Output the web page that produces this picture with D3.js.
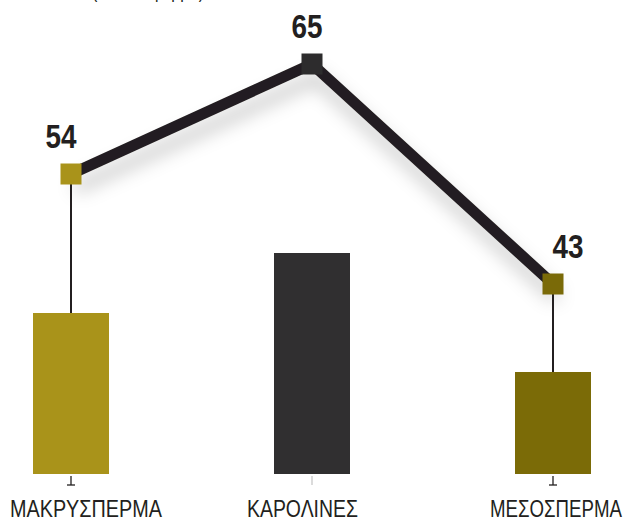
<!DOCTYPE html>
<html><head><meta charset="utf-8">
<script src="https://cdn.jsdelivr.net/npm/d3@7"></script>
<style>
html,body{margin:0;padding:0;background:#fff;}
svg{display:block;}
</style></head>
<body>
<svg id="chart" width="625" height="518"></svg>
<script>
const categories = ["ΜΑΚΡΥΣΠΕΡΜΑ", "ΚΑΡΟΛΙΝΕΣ", "ΜΕΣΟΣΠΕΡΜΑ"];
const lineValues = [54, 65, 43];
const barValues = [16.1, 22.1, 10.2];
const unitLabel = "(κιλά / στρέμμα)";

const colors = ["#a9931a", "#302f30", "#7b6b07"];
const markerColors = ["#a9931a", "#2d2c2d", "#7a6a08"];
const ink = "#231f20";
const font = "'Liberation Sans', Arial, sans-serif";

const svg = d3.select("#chart");
const defs = svg.append("defs");
const f = defs.append("filter").attr("id","sh").attr("x","-20%").attr("y","-50%").attr("width","140%").attr("height","250%");
f.append("feDropShadow").attr("dx",4).attr("dy",14).attr("stdDeviation",9).attr("flood-color","#000").attr("flood-opacity",0.22);
const f2 = defs.append("filter").attr("id","sh2").attr("x","-5%").attr("y","-200%").attr("width","110%").attr("height","600%");
f2.append("feDropShadow").attr("dx",1).attr("dy",3).attr("stdDeviation",1.5).attr("flood-color","#000").attr("flood-opacity",0.25);

const x = d3.scalePoint().domain(categories).range([71, 553]);
const yLine = d3.scaleLinear().domain([0, 70]).range([714, 14]);
const yBar = d3.scaleLinear().domain([0, 30]).range([474, 174]);
const barW = 76;

// unit label (cropped at top, as in the reference)
svg.append("text").attr("x", 92).attr("y", -2)
  .attr("font-family", font).attr("font-size", 20).attr("fill", ink)
  .attr("textLength", 112).attr("lengthAdjust", "spacingAndGlyphs")
  .text(unitLabel);

// line with shadow
const line = d3.line().x((d,i)=>x(categories[i])).y(d=>yLine(d));
svg.append("path").datum(lineValues).attr("d", line)
  .attr("fill","none").attr("stroke", ink).attr("stroke-width", 11)
  .attr("stroke-linejoin","miter").attr("filter","url(#sh)");

// bars
svg.selectAll("rect.bar").data(barValues).enter().append("rect").attr("class","bar")
  .attr("x",(d,i)=>x(categories[i]) - barW/2)
  .attr("y", d=>yBar(d))
  .attr("width", barW)
  .attr("height", d=>yBar(0) - yBar(d))
  .attr("fill",(d,i)=>colors[i]);

// connectors (outer categories)
[0,2].forEach(i=>{
  svg.append("line")
    .attr("x1", x(categories[i])).attr("x2", x(categories[i]))
    .attr("y1", yLine(lineValues[i])).attr("y2", yBar(barValues[i]))
    .attr("stroke", ink).attr("stroke-width", 2);
});

// markers
const ms = 21;
svg.selectAll("rect.mk").data(lineValues).enter().append("rect").attr("class","mk")
  .attr("x",(d,i)=>x(categories[i]) - ms/2)
  .attr("y", d=>yLine(d) - ms/2)
  .attr("width", ms).attr("height", ms)
  .attr("fill",(d,i)=>markerColors[i]);

// value labels
const labelDx = [-10, -5, 15];
svg.selectAll("text.val").data(lineValues).enter().append("text").attr("class","val")
  .attr("x",(d,i)=>x(categories[i]) + labelDx[i] - 15.5)
  .attr("y", d=>yLine(d) - 26)
  .attr("font-family", font)
  .attr("font-weight","bold").attr("font-size", 34).attr("fill", ink)
  .attr("textLength", 31).attr("lengthAdjust", "spacingAndGlyphs")
  .text(d=>d);

// baseline axis
svg.append("line").attr("x1", 44).attr("x2", 614).attr("y1", yBar(0)+1).attr("y2", yBar(0)+1)
  .attr("stroke", ink).attr("stroke-width", 2.5).attr("filter","url(#sh2)");

// ticks
categories.forEach((c,i)=>{
  const cx = x(c);
  const col = i === 1 ? "#c8c8c8" : ink;
  svg.append("line").attr("x1",cx).attr("x2",cx).attr("y1",yBar(0)+2).attr("y2",yBar(0)+11)
    .attr("stroke", col).attr("stroke-width", 1.3);
  if (i !== 1) {
    svg.append("line").attr("x1",cx-4).attr("x2",cx+4).attr("y1",yBar(0)+11).attr("y2",yBar(0)+11)
      .attr("stroke", col).attr("stroke-width", 1.3);
  }
});

// category labels
const catLeft = [10, 247, 490];
const catWidth = [152, 111, 132];
svg.selectAll("text.cat").data(categories).enter().append("text").attr("class","cat")
  .attr("x",(d,i)=>catLeft[i])
  .attr("y", 517)
  .attr("font-family", font)
  .attr("font-size", 23).attr("fill", ink)
  .attr("textLength",(d,i)=>catWidth[i]).attr("lengthAdjust", "spacingAndGlyphs")
  .text(d=>d);
</script>
</body></html>
